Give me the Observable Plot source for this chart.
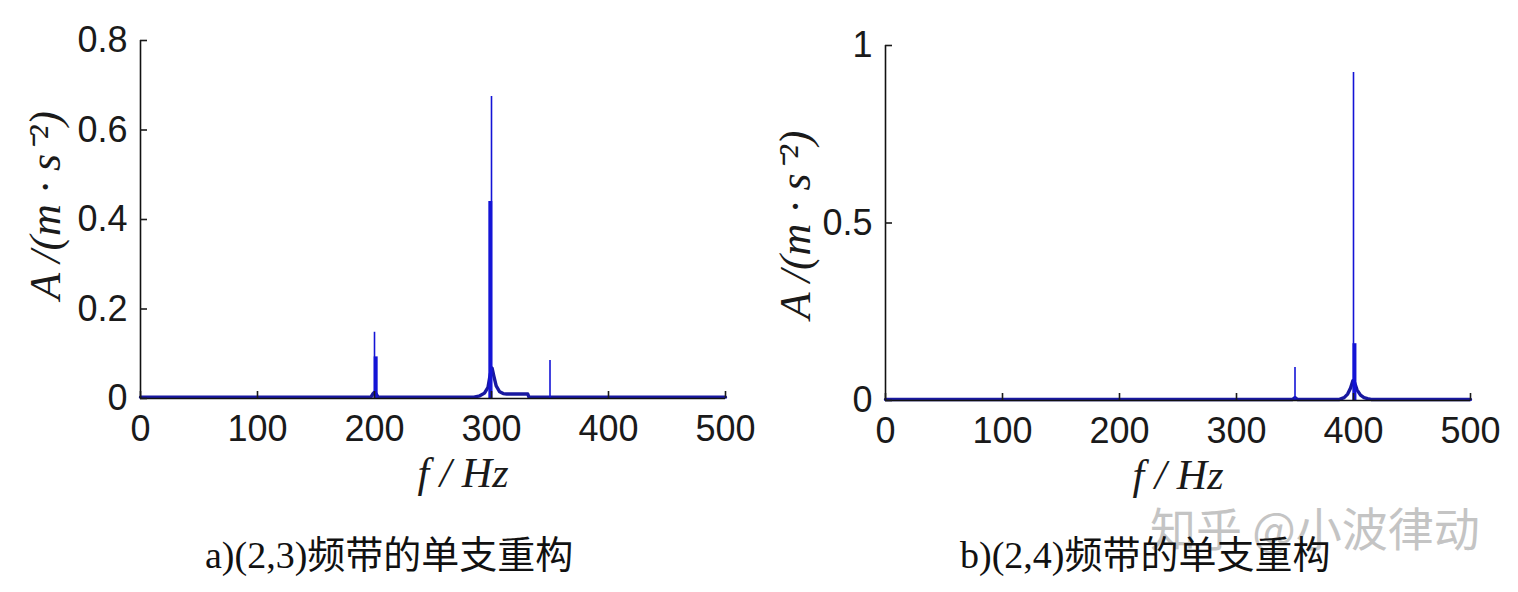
<!DOCTYPE html>
<html>
<head>
<meta charset="utf-8">
<script src="https://cdn.jsdelivr.net/npm/d3@7"></script>
<script src="https://cdn.jsdelivr.net/npm/@observablehq/plot@0.6"></script>
<style>
  html, body { margin: 0; padding: 0; background: #fff; }
  #fig { position: relative; width: 1518px; height: 592px; overflow: hidden; background: #fff; }
  .panel { position: absolute; top: 0; }
  .cap { position: absolute; top: 530px; font-family: "Liberation Serif", "Noto Sans CJK SC", serif; font-size: 38px; color: #111; white-space: nowrap; line-height: 50px; }
  .wm { position: absolute; left: 1150px; top: 498px; font-family: "Noto Sans CJK SC", sans-serif; font-size: 46px; color: #c4c4c4; white-space: nowrap; line-height: 56px; }
</style>
</head>
<body>
<div id="fig"></div>
<script>
// ---------- data ----------
const xTicks = [0, 100, 200, 300, 400, 500];

// panel a) (2,3) band
const aYTicks = [0, 0.2, 0.4, 0.6, 0.8];
const aCurveFreq = [0, 150, 197, 198.5, 200, 201.5, 203, 250, 285, 290, 294, 297, 299, 300.5, 302, 304, 307, 310, 313, 331, 332, 420, 500];
const aCurveAmp  = [0.003, 0.003, 0.003, 0.010, 0.014, 0.010, 0.003, 0.003, 0.003, 0.006, 0.012, 0.025, 0.055, 0.068, 0.050, 0.028, 0.015, 0.011, 0.010, 0.010, 0.003, 0.003, 0.003];
const aSpikeFreq = [200, 300, 350];
const aSpikeAmp  = [0.148, 0.675, 0.085];
const aBandFreq  = [201, 299];
const aBandAmp   = [0.093, 0.44];

// panel b) (2,4) band
const bYTicks = [0, 0.5, 1];
const bCurveFreq = [0, 340, 348, 350, 352, 385, 388, 392, 395, 397.5, 399.5, 401, 403, 406, 409, 412, 415, 500];
const bCurveAmp  = [0.003, 0.003, 0.003, 0.008, 0.003, 0.003, 0.003, 0.008, 0.018, 0.035, 0.056, 0.050, 0.030, 0.015, 0.008, 0.005, 0.003, 0.003];
const bSpikeFreq = [350, 400];
const bSpikeAmp  = [0.093, 0.924];
const bBandFreq  = [400.8];
const bBandAmp   = [0.16];

const yLabel = "A /(m · s⁻²)";
const xLabel = "f / Hz";
const captions = ["a)(2,3)频带的单支重构", "b)(2,4)频带的单支重构"];
const watermark = "知乎 @小波律动";

// ---------- drawing ----------
const zip = (fs, as) => fs.map((f, i) => ({f, a: as[i]}));
const BLUE = "#1414d6";
const tickFont = "'Liberation Sans', Arial, sans-serif";
const serif = "'Liberation Serif', 'Times New Roman', serif";

function panel({yMax, yTicks, curveF, curveA, spikeF, spikeA, bandF, bandA, marginTop, marginBottom, xLabelDx, yLabelDx, yLabelDy}) {
  return Plot.plot({
    width: 760, height: 500,
    marginLeft: 140, marginRight: 35, marginTop, marginBottom,
    style: {background: "transparent", color: "#1a1a1a", fontFamily: tickFont, overflow: "visible"},
    x: {domain: [0, 500]},
    y: {domain: [0, yMax]},
    marks: [
      Plot.line(zip(curveF, curveA), {x: "f", y: "a", stroke: "#1818a0", strokeWidth: 3.4}),
      Plot.ruleX(zip(bandF, bandA), {x: "f", y1: 0, y2: "a", stroke: BLUE, strokeWidth: 4}),
      Plot.ruleX(zip(spikeF, spikeA), {x: "f", y1: 0, y2: "a", stroke: BLUE, strokeWidth: 1.6}),
      Plot.ruleY([0], {stroke: "#111", strokeWidth: 1.6}),
      Plot.ruleX([0], {stroke: "#111", strokeWidth: 1.6}),
      Plot.axisX({ticks: xTicks, tickSize: -7, tickPadding: 24, fontSize: 36, label: null, tickFormat: d => `${d}`, strokeWidth: 1.6}),
      Plot.axisY({ticks: yTicks, tickSize: -7, tickPadding: 20, fontSize: 36, label: null, tickFormat: d => `${d}`, strokeWidth: 1.6}),
      Plot.text([yLabel], {frameAnchor: "left", textAnchor: "middle", dx: yLabelDx, dy: yLabelDy, rotate: -90, fontFamily: serif, fontStyle: "italic", fontSize: 44, fill: "#1a1a1a"}),
      Plot.text([xLabel], {frameAnchor: "bottom", dx: xLabelDx, dy: 88, fontFamily: serif, fontStyle: "italic", fontSize: 42, fill: "#1a1a1a"})
    ]
  });
}

const fig = document.getElementById("fig");

const pa = panel({yMax: 0.8, yTicks: aYTicks, curveF: aCurveFreq, curveA: aCurveAmp,
  spikeF: aSpikeFreq, spikeA: aSpikeAmp, bandF: aBandFreq, bandA: aBandAmp,
  marginTop: 40, marginBottom: 102, xLabelDx: 30, yLabelDx: -95, yLabelDy: -14});
pa.classList.add("panel"); pa.style.left = "0px";
fig.appendChild(pa);

const pb = panel({yMax: 1, yTicks: bYTicks, curveF: bCurveFreq, curveA: bCurveAmp,
  spikeF: bSpikeFreq, spikeA: bSpikeAmp, bandF: bBandFreq, bandA: bBandAmp,
  marginTop: 45, marginBottom: 100, xLabelDx: 0, yLabelDx: -90, yLabelDy: 2});
pb.classList.add("panel"); pb.style.left = "745px";
fig.appendChild(pb);

const wm = document.createElement("div");
wm.className = "wm"; wm.textContent = watermark;
fig.appendChild(wm);

[[205, captions[0]], [960, captions[1]]].forEach(([left, t]) => {
  const c = document.createElement("div");
  c.className = "cap"; c.style.left = left + "px"; c.textContent = t;
  fig.appendChild(c);
});
</script>
</body>
</html>
